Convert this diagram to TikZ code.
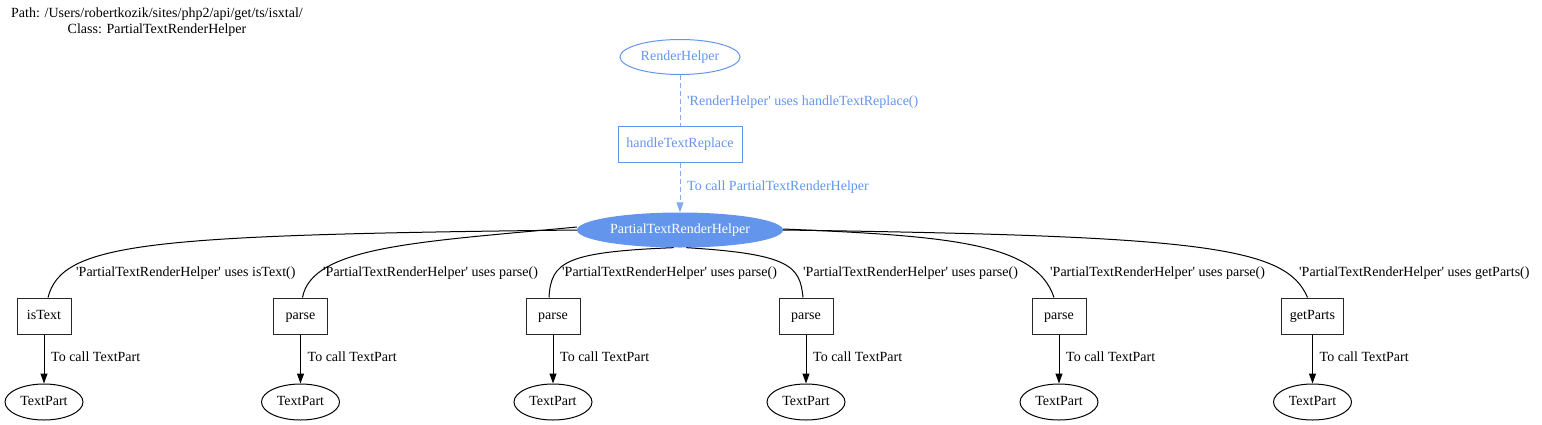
\documentclass[tikz,border=0pt]{standalone}
\usepackage{fontspec}
\setmainfont{Liberation Serif}
\usetikzlibrary{arrows.meta,shapes.geometric}
\definecolor{cblue}{HTML}{6495ED}
\newcommand{\sq}{\textquotesingle}
\tikzset{
  every node/.style={font=\fontsize{14}{16}\selectfont, inner sep=0pt},
  txt/.style={text height=10pt, text depth=3pt},
  methodbox/.style={txt, draw=black!85, line width=1pt, minimum height=36pt, inner xsep=8pt},
  partell/.style={txt, draw=black, line width=1pt, ellipse, minimum width=78pt, minimum height=36pt},
  lbl/.style={txt, anchor=west},
  blulbl/.style={txt, anchor=west, text=cblue},
  calledge/.style={line width=1pt, -{Triangle[length=10pt,width=7pt]}},
  useedge/.style={line width=1pt},
  bludash/.style={draw=cblue!80, line width=1pt, dash pattern=on 5pt off 3pt},
}
\begin{document}
\begin{tikzpicture}[x=1pt,y=-1pt]
\useasboundingbox (0,0) rectangle (1542,424);
% header
\node[align=center] (hdr) at (157,22) {Path: /Users/robertkozik/sites/php2/api/get/ts/isxtal/\\Class: PartialTextRenderHelper};
% top nodes
\node[txt, draw=cblue, line width=1pt, ellipse, minimum width=120pt, minimum height=35pt, text=cblue] (rh) at (680,57) {RenderHelper};
\node[txt, draw=cblue, line width=1pt, minimum height=36pt, minimum width=124pt, text=cblue] (htr) at (680,144) {handleTextReplace};
\node[txt, fill=cblue, ellipse, minimum width=206pt, minimum height=35pt, text=white] (ptrh) at (680,230) {PartialTextRenderHelper};
\draw[bludash] (rh) -- (htr);
\draw[bludash, -{Triangle[length=10pt,width=7pt]}] (htr) -- (ptrh);
\node[blulbl] (l1) at (687,102) {\sq RenderHelper\sq{} uses handleTextReplace()};
\node[blulbl] (l2) at (687,187) {To call PartialTextRenderHelper};
% method boxes
\node[methodbox, minimum width=54pt] (m1) at (44,316) {isText};
\node[methodbox, minimum width=54pt] (m2) at (300.5,316) {parse};
\node[methodbox, minimum width=54pt] (m3) at (553,316) {parse};
\node[methodbox, minimum width=54pt] (m4) at (806,316) {parse};
\node[methodbox, minimum width=54pt] (m5) at (1059,316) {parse};
\node[methodbox, minimum width=61pt] (m6) at (1312.5,316) {getParts};
% TextPart ellipses
\node[partell] (t1) at (44,402) {TextPart};
\node[partell] (t2) at (300.5,402) {TextPart};
\node[partell] (t3) at (553,402) {TextPart};
\node[partell] (t4) at (806,402) {TextPart};
\node[partell] (t5) at (1059,402) {TextPart};
\node[partell] (t6) at (1312.5,402) {TextPart};
% call edges
\foreach \i in {1,...,6} {
  \draw[calledge] (m\i) -- (t\i);
}
\node[lbl] (c1) at (51,358) {To call TextPart};
\node[lbl] (c2) at (307.5,358) {To call TextPart};
\node[lbl] (c3) at (560,358) {To call TextPart};
\node[lbl] (c4) at (813,358) {To call TextPart};
\node[lbl] (c5) at (1066,358) {To call TextPart};
\node[lbl] (c6) at (1319.5,358) {To call TextPart};
% use edges
\draw[useedge] (ptrh.west) .. controls (150,235) and (62,242) .. ([xshift=4pt]m1.north);
\draw[useedge] ([yshift=3pt]ptrh.west) .. controls (420,242) and (312,246) .. ([xshift=2pt]m2.north);
\draw[useedge] (ptrh.250) .. controls (565,252) and (551,262) .. ([xshift=-4pt]m3.north);
\draw[useedge] (ptrh.290) .. controls (790,254) and (800,266) .. ([xshift=-3pt]m4.north);
\draw[useedge] ([yshift=1pt]ptrh.east) .. controls (950,236) and (1036,243) .. ([xshift=-5pt]m5.north);
\draw[useedge] (ptrh.east) .. controls (1200,236) and (1286,246) .. ([xshift=-5pt]m6.north);
\node[lbl] (u1) at (76,273) {\sq PartialTextRenderHelper\sq{} uses isText()};
\node[lbl] (u2) at (323,273) {\sq PartialTextRenderHelper\sq{} uses parse()};
\node[lbl] (u3) at (562,273) {\sq PartialTextRenderHelper\sq{} uses parse()};
\node[lbl] (u4) at (803,273) {\sq PartialTextRenderHelper\sq{} uses parse()};
\node[lbl] (u5) at (1050,273) {\sq PartialTextRenderHelper\sq{} uses parse()};
\node[lbl] (u6) at (1299,273) {\sq PartialTextRenderHelper\sq{} uses getParts()};
\end{tikzpicture}
\end{document}
